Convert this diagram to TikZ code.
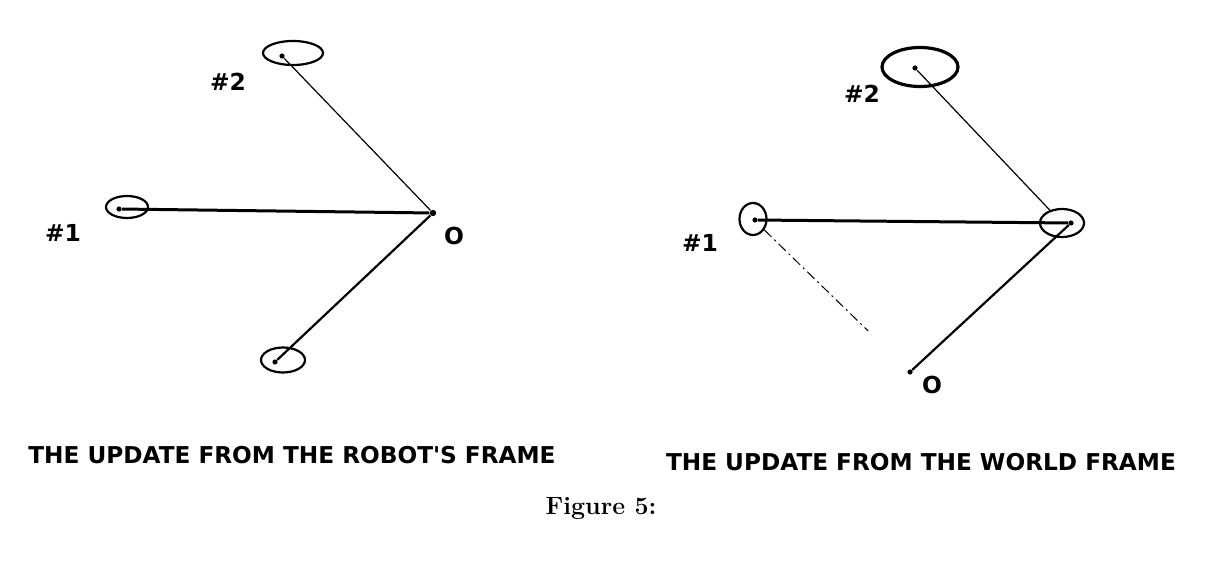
\documentclass[tikz,border=0pt]{standalone}
\usepackage{fontspec}
\newfontfamily\labelfont{DejaVu Sans}
\usetikzlibrary{shapes,positioning,calc}

\begin{document}
\begin{tikzpicture}[x=0.5pt,y=-0.5pt,
  dot/.style={circle,fill,inner sep=0pt,minimum size=2.6pt},
  blob/.style={ellipse,draw,line width=1.1pt,inner sep=0pt},
  tag/.style={font=\labelfont\bfseries\fontsize{11.7}{13}\selectfont,inner sep=0pt},
  title/.style={font=\labelfont\bfseries\fontsize{11.6}{13}\selectfont,inner sep=0pt}]
\useasboundingbox (0,0) rectangle (1223,567);
% robot's frame
\node[blob,minimum width=30pt,minimum height=12pt] (lE2) at (293,53) {};
\node[blob,minimum width=21pt,minimum height=11pt] (lE1) at (127,207) {};
\node[blob,minimum width=22pt,minimum height=12.5pt] (lE3) at (283,360) {};
\node[dot] (l2) at (282,56) {};
\node[dot] (l1) at (119,209) {};
\node[dot] (l3) at (275,362) {};
\node[dot,minimum size=3.2pt] (lO) at (433,213) {};
\draw[line width=0.6pt] (l2) -- (lO);
\draw[line width=1.5pt] (l1) -- (lO);
\draw[line width=1.1pt] (l3) -- (lO);
\node[tag] at (228,82) {\#2};
\node[tag] at (63,233) {\#1};
\node[tag] at (454,236) {O};
% world frame
\node[blob,line width=1.6pt,minimum width=38pt,minimum height=19.5pt] (rE2) at (920,67) {};
\node[blob,minimum width=13.5pt,minimum height=16pt] (rE1) at (753,219) {};
\node[blob,minimum width=22pt,minimum height=14pt] (rEO) at (1062,223) {};
\node[dot] (r2) at (915,68) {};
\node[dot] (r1) at (755,220) {};
\node[dot] (rO) at (1071,223) {};
\node[dot] (ro) at (910,372) {};
\coordinate (rd) at ($(r1)!0.73!(ro)$);
\draw[line width=0.6pt] (r2) -- (rEO);
\draw[line width=1.5pt] (r1) -- (rO);
\draw[line width=1.1pt] (rO) -- (ro);
\draw[line width=0.5pt,dash pattern=on 5pt off 2pt on 1pt off 2pt] (rE1) -- (rd);
\node[tag] at (862,94) {\#2};
\node[tag] at (700,243) {\#1};
\node[tag] at (932,385) {O};
% captions
\node[title] at (292,455) {THE UPDATE FROM THE ROBOT'S FRAME};
\node[title] at (921,462) {THE UPDATE FROM THE WORLD FRAME};
\node[font=\bfseries\fontsize{12.5}{14}\selectfont,inner sep=0pt] at (601,508) {Figure 5:};
\end{tikzpicture}
\end{document}
